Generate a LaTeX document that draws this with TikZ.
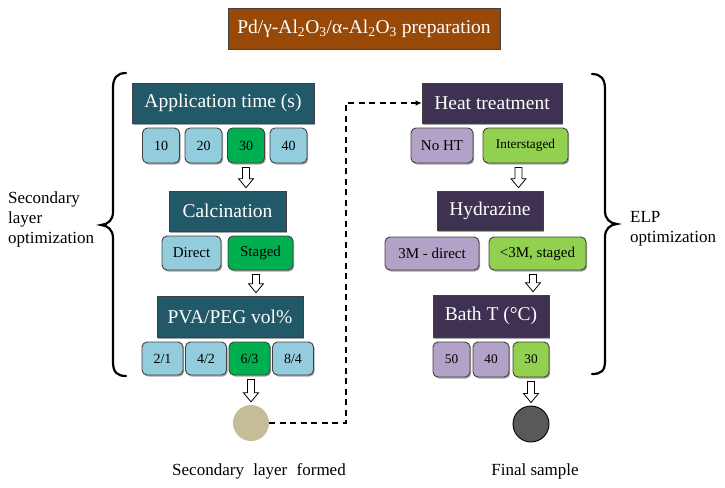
\documentclass[tikz,border=0pt]{standalone}
\usepackage{fontspec}
\setmainfont{Liberation Serif}
\usetikzlibrary{arrows.meta,shadows,calc}
\definecolor{hdteal}{HTML}{215968}
\definecolor{hdpurple}{HTML}{3F3151}
\definecolor{hdbrown}{HTML}{984807}
\definecolor{optblue}{HTML}{93CDDD}
\definecolor{optgreen}{HTML}{00B050}
\definecolor{optlilac}{HTML}{B3A2C7}
\definecolor{optlime}{HTML}{92D050}
\definecolor{disktan}{HTML}{C4BD97}
\definecolor{diskgray}{HTML}{595959}
\tikzset{
  softshadow/.style={drop shadow={shadow xshift=1.2pt, shadow yshift=-1.5pt, opacity=0.35, fill=black}},
  hdr/.style={draw=black!75, line width=0.6pt, text=white, inner sep=0pt,
    font=\fontsize{19.5}{23}\selectfont, softshadow},
  opt/.style={draw=black!75, line width=0.9pt, rounded corners=5pt, inner sep=0pt,
    font=\fontsize{14}{16}\selectfont, softshadow},
  disk/.style={circle, inner sep=0pt, minimum size=36pt},
  bracepath/.style={line width=2.2pt, line cap=round},
  dashconn/.style={line width=2pt, dash pattern=on 6pt off 4.5pt, -{Latex[length=6pt,width=5.5pt]}},
  blk/.style={draw=black, line width=0.8pt, fill=white, line join=miter},
  sidelabel/.style={align=left, inner sep=0pt, font=\fontsize{17}{20}\selectfont},
}
% hollow block arrow: [xshift] from-node, to-node
\newcommand\blkarrow[3][0]{%
  \path let \p1=($(#2.south)+(#1,0)$), \p2=(#3.north) in
    [blk] (\x1-3.5pt,\y1-4pt) -- (\x1+3.5pt,\y1-4pt) -- (\x1+3.5pt,\y2+12pt)
    -- (\x1+7.5pt,\y2+12pt) -- (\x1,\y2+3pt) -- (\x1-7.5pt,\y2+12pt)
    -- (\x1-3.5pt,\y2+12pt) -- cycle;}
\begin{document}
\begin{tikzpicture}[x=1pt,y=-1pt]
\useasboundingbox (0,0) rectangle (725,487);

% title
\node[hdr, fill=hdbrown, minimum width=272pt, minimum height=41pt] (title) at (364,28.5)
  {Pd/γ-Al\textsubscript{2}O\textsubscript{3}/α-Al\textsubscript{2}O\textsubscript{3} preparation};

% ---------- left column ----------
\node[hdr, fill=hdteal, minimum width=182pt, minimum height=40pt] (app) at (223,103) {Application time (s)};
\node[opt, fill=optblue,  minimum width=37pt, minimum height=35pt] (a10) at (161,145.5) {10};
\node[opt, fill=optblue,  minimum width=37pt, minimum height=35pt] (a20) at (203.5,145.5) {20};
\node[opt, fill=optgreen, minimum width=37pt, minimum height=35pt] (a30) at (246,145.5) {30};
\node[opt, fill=optblue,  minimum width=37pt, minimum height=35pt] (a40) at (288.5,145.5) {40};

\node[hdr, fill=hdteal, minimum width=117pt, minimum height=40pt] (calc) at (227.5,211) {Calcination};
\node[opt, fill=optblue,  minimum width=59pt, minimum height=34pt, font=\fontsize{15}{17}\selectfont] (direct) at (191.5,253) {Direct};
\node[opt, fill=optgreen, minimum width=65pt, minimum height=34pt, font=\fontsize{15}{17}\selectfont] (staged) at (260.5,253) {Staged};

\node[hdr, fill=hdteal, minimum width=146pt, minimum height=41pt] (pva) at (230,316.5) {PVA/PEG vol\%};
\node[opt, fill=optblue,  minimum width=41pt, minimum height=33pt] (p21) at (162.5,358.5) {2/1};
\node[opt, fill=optblue,  minimum width=41pt, minimum height=33pt] (p42) at (206,358.5) {4/2};
\node[opt, fill=optgreen, minimum width=41pt, minimum height=33pt] (p63) at (249.5,358.5) {6/3};
\node[opt, fill=optblue,  minimum width=41pt, minimum height=33pt] (p84) at (293,358.5) {8/4};

\node[disk, fill=disktan] (c1) at (251,423) {};

% ---------- right column ----------
\node[hdr, fill=hdpurple, minimum width=140pt, minimum height=40pt] (heat) at (492,103) {Heat treatment};
\node[opt, fill=optlilac, minimum width=62pt, minimum height=35pt, font=\fontsize{15}{17}\selectfont] (noht) at (442,145.5) {No HT};
\node[opt, fill=optlime,  minimum width=85pt, minimum height=35pt, font=\fontsize{13.3}{15}\selectfont] (inter) at (525.5,145.5) {Interstaged};

\node[hdr, fill=hdpurple, minimum width=106pt, minimum height=39pt] (hyd) at (490,210.5) {Hydrazine};
\node[opt, fill=optlilac, minimum width=94pt, minimum height=33pt, font=\fontsize{15}{17}\selectfont] (h3m) at (432,253.5) {3M - direct};
\node[opt, fill=optlime,  minimum width=97pt, minimum height=33pt, font=\fontsize{15}{17}\selectfont] (hlt) at (537.5,253.5) {<3M, staged};

\node[hdr, fill=hdpurple, minimum width=116pt, minimum height=42pt] (bath) at (491,316) {Bath T (°C)};
\node[opt, fill=optlilac, minimum width=37pt, minimum height=35pt, font=\fontsize{13.3}{15}\selectfont] (t50) at (451.5,359.5) {50};
\node[opt, fill=optlilac, minimum width=36pt, minimum height=35pt, font=\fontsize{13.3}{15}\selectfont] (t40) at (491,359.5) {40};
\node[opt, fill=optlime,  minimum width=36pt, minimum height=35pt, font=\fontsize{13.3}{15}\selectfont] (t30) at (531,359.5) {30};

\node[disk, fill=diskgray, draw=black, line width=0.9pt] (c2) at (531,424) {};

% block arrows
\blkarrow{a30}{calc}
\blkarrow[-4.5]{staged}{pva}
\blkarrow[1.5]{p63}{c1}
\blkarrow[-7]{inter}{hyd}
\blkarrow[-4.5]{hlt}{bath}
\blkarrow{t30}{c2}

% dashed connector
\coordinate (dashx) at (346,103);
\draw[dashconn] (c1.east) -| (dashx) -- (heat.west);

% braces
\draw[bracepath] (126,73) .. controls (117,73) and (113,78) .. (113,88) -- (113,212)
  .. controls (113,220) and (108,224.5) .. (101,225) .. controls (108,225.5) and (113,230) .. (113,238)
  -- (113,362) .. controls (113,372) and (117,376) .. (126,376);
\draw[bracepath] (592,74) .. controls (601,74) and (605,79) .. (605,89) -- (605,211)
  .. controls (605,219) and (610,223.5) .. (617,224) .. controls (610,224.5) and (605,229) .. (605,237)
  -- (605,361) .. controls (605,371) and (601,374) .. (592,374);

% labels
\node[sidelabel, anchor=north west] (lsec) at (8,191.3) {Secondary\\layer\\optimization};
\node[sidelabel, anchor=north west] (lelp) at (630,211.5) {ELP\\optimization};
\node[inner sep=0pt, anchor=base, font=\fontsize{17}{20}\selectfont] (lformed) at (259,475) {Secondary\hspace{0.3em} layer\hspace{0.3em} formed};
\node[inner sep=0pt, anchor=base, font=\fontsize{17}{20}\selectfont] (lfinal) at (535,475) {Final sample};
\end{tikzpicture}
\end{document}
